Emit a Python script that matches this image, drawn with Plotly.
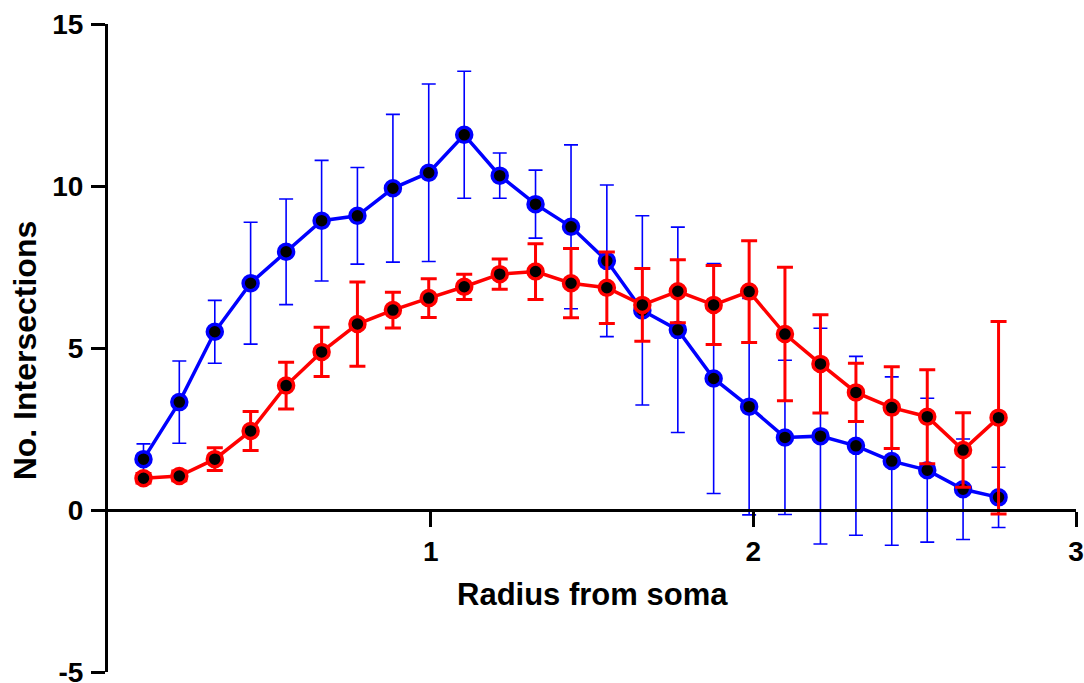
import plotly.graph_objects as go

radius = [0.110, 0.221, 0.331, 0.442, 0.552, 0.662, 0.773, 0.883, 0.994, 1.104,
          1.214, 1.325, 1.435, 1.546, 1.656, 1.766, 1.877, 1.987, 2.098, 2.208,
          2.318, 2.429, 2.539, 2.650, 2.760]

blue_mean = [1.57, 3.33, 5.50, 7.00, 7.97, 8.93, 9.08, 9.93, 10.41, 11.58,
             10.32, 9.44, 8.74, 7.69, 6.16, 5.56, 4.06, 3.19, 2.24, 2.28,
             1.98, 1.51, 1.23, 0.64, 0.39]
blue_sd = [0.47, 1.27, 0.97, 1.88, 1.63, 1.86, 1.49, 2.28, 2.74, 1.96,
           0.70, 1.05, 2.53, 2.34, 2.92, 3.17, 3.55, 3.34, 2.38, 3.33,
           2.76, 2.60, 2.22, 1.55, 0.93]

red_mean = [0.98, 1.05, 1.57, 2.44, 3.84, 4.88, 5.74, 6.17, 6.54, 6.89,
            7.28, 7.36, 7.00, 6.86, 6.33, 6.75, 6.33, 6.74, 5.43, 4.51,
            3.63, 3.16, 2.88, 1.85, 2.85]
red_sd = [0.15, 0.15, 0.35, 0.60, 0.72, 0.76, 1.30, 0.55, 0.60, 0.39,
          0.47, 0.86, 1.07, 1.10, 1.12, 0.97, 1.22, 1.57, 2.06, 1.52,
          0.90, 1.26, 1.45, 1.15, 2.97]

x_ticks = [1, 2, 3]
y_ticks = [-5, 0, 5, 10, 15]

BLUE = "#0000FF"
RED = "#FF0000"
FONT = "Liberation Sans, Arial, sans-serif"

fig = go.Figure()
fig.add_trace(go.Scatter(
    x=radius, y=blue_mean, mode="lines+markers", name="Blue",
    line=dict(color=BLUE, width=3.5),
    marker=dict(color="black", size=15, line=dict(color=BLUE, width=3.5)),
    error_y=dict(type="data", array=blue_sd, visible=True,
                 color=BLUE, thickness=1.6, width=7),
    cliponaxis=False,
))
fig.add_trace(go.Scatter(
    x=radius, y=red_mean, mode="lines+markers", name="Red",
    line=dict(color=RED, width=3.5),
    marker=dict(color="black", size=15, line=dict(color=RED, width=3.5)),
    error_y=dict(type="data", array=red_sd, visible=True,
                 color=RED, thickness=3, width=8),
    cliponaxis=False,
))

fig.update_layout(
    width=1084, height=683,
    margin=dict(l=108, r=8, t=24, b=11, autoexpand=False),
    paper_bgcolor="white", plot_bgcolor="white",
    showlegend=False,
    font=dict(family=FONT, color="black"),
    xaxis=dict(
        range=[0, 3], tickvals=x_ticks, ticktext=["<b>%d</b>" % v for v in x_ticks],
        anchor="free", position=0.25, automargin=False,
        showline=True, linewidth=3, linecolor="black",
        ticks="outside", ticklen=15, tickwidth=3, tickcolor="black",
        showgrid=False, zeroline=False,
        tickfont=dict(family=FONT, size=28, color="black"),
        ticklabelstandoff=0, ticklabeloverflow="allow",
    ),
    yaxis=dict(
        range=[-5, 15], tickvals=y_ticks, ticktext=["<b>%d</b>" % v for v in y_ticks],
        automargin=False,
        showline=True, linewidth=3, linecolor="black",
        ticks="outside", ticklen=14, tickwidth=3, tickcolor="black",
        showgrid=False, zeroline=False,
        tickfont=dict(family=FONT, size=28, color="black"),
        ticklabelstandoff=2, ticklabeloverflow="allow",
    ),
    annotations=[
        dict(text="<b>Radius from soma</b>", xref="paper", yref="paper",
             x=0.501, y=0.119, xanchor="center", yanchor="middle",
             showarrow=False, font=dict(family=FONT, size=31, color="black")),
        dict(text="<b>No. Intersections</b>", xref="paper", yref="paper",
             x=-0.086, y=0.496, xanchor="center", yanchor="middle", textangle=-90,
             showarrow=False, font=dict(family=FONT, size=32, color="black")),
    ],
)

fig.write_html(
    "out.html",
    config={"displayModeBar": False},
    post_script="document.body.style.margin='0';document.body.style.overflow='hidden';",
)
